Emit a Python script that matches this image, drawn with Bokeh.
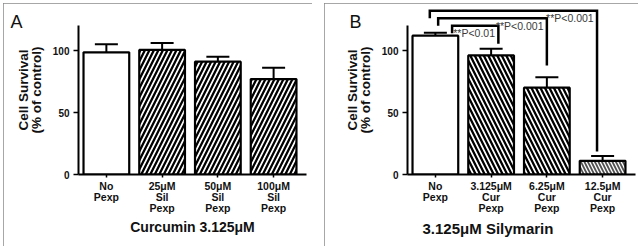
from bokeh.plotting import figure
from bokeh.layouts import row
from bokeh.models import (Range1d, FixedTicker, Whisker, TeeHead, ColumnDataSource,
                          LinearAxis, Title)
from bokeh.embed import file_html
from bokeh.resources import INLINE
from bokeh.core.properties import value

# ---------------- data ----------------
a_categories = ["No\nPexp", "25μM\nSil\nPexp", "50μM\nSil\nPexp", "100μM\nSil\nPexp"]
a_survival = [98.5, 100.5, 91, 77]
a_error = [6.5, 5.5, 4, 9]

b_categories = ["No\nPexp", "3.125μM\nCur\nPexp", "6.25μM\nCur\nPexp", "12.5μM\nCur\nPexp"]
b_survival = [112, 96, 70, 11]
b_error = [2.3, 5.5, 8.5, 4]
b_compared_groups = [2, 3, 4]          # each compared against group 1 (No Pexp)
b_p_labels = ["**P<0.01", "**P<0.001", "**P<0.001"]

y_ticks = [0, 50, 100]
y_title = "Cell Survival\n(% of control)"
a_title = "Curcumin 3.125μM"
b_title = "3.125μM Silymarin"

FONT = "Liberation Sans"
INK = "#111111"


def make_panel(width, margin, left_border, right_border, categories, survival, error,
               hatch, hatch_colors, hatch_weights, hatch_scales, letter, letter_standoff):
    n = len(categories)
    xs = list(range(1, n + 1))
    p = figure(width=width, height=243, output_backend="svg", toolbar_location=None,
               x_range=Range1d(0.5, 4.59), y_range=Range1d(0, 136.3),
               min_border_left=left_border, min_border_right=right_border,
               min_border_top=2, min_border_bottom=72, margin=margin,
               styles={"outline": "1.5px solid #8a8a8a", "outline-offset": "-1px"})
    p.outline_line_color = None
    p.grid.visible = False

    src = ColumnDataSource(dict(x=xs, top=survival,
                                upper=[v + e for v, e in zip(survival, error)],
                                hatch=[" "] + [hatch] * (n - 1),
                                hcol=hatch_colors, hw=hatch_weights, hs=hatch_scales))
    p.vbar(x="x", top="top", width=0.82, bottom=0, source=src,
           fill_color="white", line_color="black", line_width=2.2,
           hatch_pattern="hatch", hatch_color="hcol", hatch_weight="hw", hatch_scale="hs")
    p.add_layout(Whisker(base="x", lower="top", upper="upper", source=src,
                         line_color="black", line_width=2,
                         upper_head=TeeHead(size=23, line_color="black", line_width=2),
                         lower_head=None))

    # y axis
    p.yaxis.ticker = FixedTicker(ticks=y_ticks)
    p.yaxis.bounds = (0, 120)
    p.yaxis.axis_line_width = 2
    p.yaxis.major_tick_line_width = 1.5
    p.yaxis.major_tick_out = 5
    p.yaxis.major_tick_in = 0
    p.yaxis.minor_tick_line_color = None
    p.yaxis.major_label_standoff = 4
    p.yaxis.major_label_text_font = FONT
    p.yaxis.major_label_text_font_style = "bold"
    p.yaxis.major_label_text_font_size = "10px"
    p.yaxis.major_label_text_color = INK
    p.yaxis.axis_label = y_title
    p.yaxis.axis_label_text_font = FONT
    p.yaxis.axis_label_text_font_style = "bold"
    p.yaxis.axis_label_text_font_size = "13.5px"
    p.yaxis.axis_label_text_line_height = 0.85
    p.yaxis.axis_label_standoff = 6
    p.yaxis.axis_label_text_color = INK

    # panel letter, shown as the single label of an outer left axis
    letter_axis = LinearAxis(ticker=FixedTicker(ticks=[123]),
                             major_label_overrides={123: letter},
                             axis_line_color=None, major_tick_line_color=None,
                             minor_tick_line_color=None,
                             major_label_standoff=letter_standoff,
                             major_label_text_font=FONT,
                             major_label_text_font_size="18px",
                             major_label_text_color=INK)
    p.add_layout(letter_axis, "left")

    # x axis
    p.xaxis.ticker = FixedTicker(ticks=xs)
    p.xaxis.major_label_overrides = {x: c for x, c in zip(xs, categories)}
    p.xaxis.axis_line_width = 2
    p.xaxis.major_tick_line_width = 1.5
    p.xaxis.major_tick_out = 3
    p.xaxis.major_tick_in = 0
    p.xaxis.minor_tick_line_color = None
    p.xaxis.major_label_standoff = 2
    p.xaxis.major_label_text_font = FONT
    p.xaxis.major_label_text_font_style = "bold"
    p.xaxis.major_label_text_font_size = "10.5px"
    p.xaxis.major_label_text_line_height = 0.92
    p.xaxis.major_label_text_color = INK
    return p


pa = make_panel(309, (3, 0, 3, 3), 75, 6, a_categories, a_survival, a_error, "/",
                ["black"] * 4, [2.3] * 4, [9] * 4, "A", -15)
pa.xaxis[0].axis_label = a_title
pa.xaxis[0].axis_label_text_font = FONT
pa.xaxis[0].axis_label_text_font_style = "bold"
pa.xaxis[0].axis_label_text_font_size = "14px"
pa.xaxis[0].axis_label_standoff = 2
pa.xaxis[0].axis_label_text_color = INK

pb = make_panel(314, (3, 3, 3, 12), 83, 3, b_categories, b_survival, b_error, "\\",
                ["black", "black", "black", "#505050"], [2.3, 2.3, 2.3, 1.8],
                [9, 9, 9, 7], "B", -25)
pb.add_layout(Title(text=b_title, align="left", offset=15, standoff=2,
                    text_font=FONT, text_font_style="bold", text_font_size="15px",
                    text_color=INK), "below")

# significance brackets in panel B (group 1 vs each treated group)
levels = [120, 126, 132]
left_dx = [0.3, 0.05, -0.1]
right_dx = [0.13, 0.0, -0.1]
right_gap = [4, 9.5, 3.5]
bx, by, tx, ty = [], [], [], []
for i, k in enumerate(b_compared_groups):
    lx = 1 + left_dx[i]
    rx = k + right_dx[i]
    rb = b_survival[k - 1] + b_error[k - 1] + right_gap[i]
    bx.append([lx, lx, rx, rx])
    by.append([levels[i] - 6, levels[i], levels[i], rb])
    tx.append(rx - 0.06)
    ty.append(levels[i] - 1.3)
pb.multi_line(xs=bx, ys=by, line_color="black", line_width=2.5, line_join="miter")
pb.text(x=tx, y=ty, text=b_p_labels, text_font=value(FONT), text_font_size="10.5px",
        text_align="right", text_baseline="top", text_color="#3a3a3a")

layout = row(pa, pb)
open("out.html", "w").write(file_html(layout, INLINE))
